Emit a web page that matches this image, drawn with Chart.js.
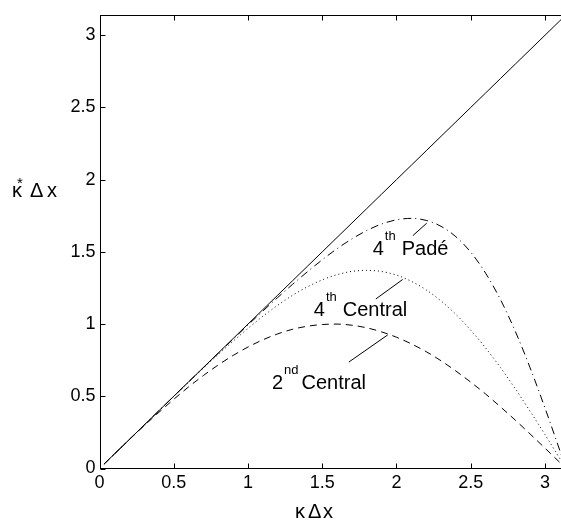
<!DOCTYPE html>
<html><head><meta charset="utf-8">
<script src="https://cdn.jsdelivr.net/npm/chart.js@4"></script>
<style>html,body{margin:0;padding:0;background:#fff;overflow:hidden;width:561px;height:525px}canvas{display:block}</style>
</head><body><canvas id="c" width="572" height="525" style="width:572px;height:525px"></canvas>
<script>
// ---- data ----
const xValues      = [0.03,0.1,0.2,0.3,0.4,0.5,0.6,0.7,0.8,0.9,1.0,1.1,1.2,1.3,1.4,1.5,1.6,1.7,1.8,1.9,2.0,2.1,2.2,2.3,2.4,2.5,2.6,2.7,2.8,2.9,3.0,3.1,3.1416];
const exactValues  = [0.03,0.1,0.2,0.3,0.4,0.5,0.6,0.7,0.8,0.9,1.0,1.1,1.2,1.3,1.4,1.5,1.6,1.7,1.8,1.9,2.0,2.1,2.2,2.3,2.4,2.5,2.6,2.7,2.8,2.9,3.0,3.1,3.1416];
const central2Values = [0.030,0.100,0.199,0.296,0.389,0.479,0.565,0.644,0.717,0.783,0.841,0.891,0.932,0.964,0.985,0.997,1.000,0.992,0.974,0.946,0.909,0.863,0.809,0.746,0.675,0.598,0.516,0.427,0.335,0.239,0.141,0.042,0];
const central4Values = [0.030,0.100,0.200,0.300,0.400,0.499,0.598,0.695,0.790,0.882,0.970,1.054,1.130,1.199,1.258,1.306,1.342,1.365,1.372,1.364,1.339,1.296,1.237,1.160,1.067,0.958,0.835,0.699,0.552,0.396,0.235,0.069,0];
const pade4Values    = [0.030,0.100,0.200,0.300,0.400,0.500,0.600,0.699,0.798,0.896,0.994,1.090,1.184,1.275,1.362,1.445,1.522,1.590,1.648,1.693,1.722,1.732,1.718,1.677,1.605,1.498,1.353,1.170,0.950,0.697,0.419,0.125,0];
const xTicks = [0,0.5,1,1.5,2,2.5,3];
const yTicks = [0,0.5,1,1.5,2,2.5,3];
const xTickLabels = ['0','0.5','1','1.5','2','2.5','3'];
const yTickLabels = ['0','0.5','1','1.5','2','2.5','3'];
const axisMax = 3.1416;
// annotation texts with anchor and leader line in data units
const annotationTexts = [['4','th','Padé'],['4','th','Central'],['2','nd','Central']];
const annotationAt    = [[1.840,1.480],[1.443,1.053],[1.161,0.548]];
const leaderFrom      = [[2.110,1.612],[1.861,1.174],[1.679,0.737]];
const leaderTo        = [[2.204,1.699],[2.042,1.309],[1.941,0.925]];

// ---- rendering ----
const FONT = '"Liberation Sans", Arial, Helvetica, sans-serif';
const pts = ys => xValues.map((x,i)=>({x, y: ys[i]}));

const frame = {
  id: 'frame',
  afterDraw(chart) {
    const {ctx, chartArea: a, scales: {x, y}} = chart;
    const r = v => Math.round(v) + 0.5;
    ctx.save();
    ctx.strokeStyle = '#000';
    ctx.lineWidth = 1;
    const L = r(a.left), R = r(a.right), T = r(a.top), B = Math.round(a.bottom) - 0.5;
    ctx.strokeRect(L, T, R - L, B - T);
    const tl = 5;
    ctx.beginPath();
    xTicks.forEach(v => {
      const px = r(x.getPixelForValue(v));
      ctx.moveTo(px, B); ctx.lineTo(px, B - tl);
      ctx.moveTo(px, T); ctx.lineTo(px, T + tl);
    });
    yTicks.forEach(v => {
      const py = r(y.getPixelForValue(v));
      ctx.moveTo(L, py); ctx.lineTo(L + tl, py);
      ctx.moveTo(R, py); ctx.lineTo(R - tl, py);
    });
    ctx.stroke();

    // leaders
    ctx.beginPath();
    leaderFrom.forEach((p, i) => {
      ctx.moveTo(x.getPixelForValue(p[0]), y.getPixelForValue(p[1]));
      ctx.lineTo(x.getPixelForValue(leaderTo[i][0]), y.getPixelForValue(leaderTo[i][1]));
    });
    ctx.stroke();

    // annotation texts
    ctx.fillStyle = '#000';
    ctx.textBaseline = 'alphabetic';
    ctx.textAlign = 'left';
    const gaps = [6, 6, 3];
    annotationTexts.forEach((t, i) => {
      let cx = x.getPixelForValue(annotationAt[i][0]);
      const by = y.getPixelForValue(annotationAt[i][1]);
      ctx.font = '20px ' + FONT; ctx.fillText(t[0], cx, by);
      cx += ctx.measureText(t[0]).width + 1;
      ctx.font = '13px ' + FONT; ctx.fillText(t[1], cx, by - 15);
      cx += ctx.measureText(t[1]).width + gaps[i];
      ctx.font = '20px ' + FONT; ctx.fillText(t[2], cx, by);
    });

    // axis titles
    ctx.font = '20px ' + FONT;
    ctx.fillText('κ', 295, 518);
    ctx.fillText('Δ', 308, 518);
    ctx.fillText('x', 323, 518);
    ctx.fillText('κ', 12, 197);
    ctx.font = '15px ' + FONT; ctx.fillText('*', 17, 188);
    ctx.font = '20px ' + FONT;
    ctx.fillText('Δ', 30, 197);
    ctx.fillText('x', 47, 197);
    ctx.restore();
  }
};

const base = {pointRadius: 0, borderColor: '#000', borderWidth: 1, fill: false, cubicInterpolationMode: 'monotone'};
new Chart(document.getElementById('c'), {
  type: 'line',
  data: {
    datasets: [
      Object.assign({label: 'exact', data: pts(exactValues)}, base),
      Object.assign({label: '2nd Central', data: pts(central2Values), borderDash: [7, 5]}, base),
      Object.assign({label: '4th Central', data: pts(central4Values), borderDash: [1, 3]}, base),
      Object.assign({label: '4th Padé', data: pts(pade4Values), borderDash: [8, 4, 1, 4]}, base)
    ]
  },
  options: {
    responsive: false,
    animation: false,
    devicePixelRatio: 1,
    layout: {padding: {top: 2, right: 6, left: 0, bottom: 0}},
    plugins: {legend: {display: false}, tooltip: {enabled: false}},
    scales: {
      x: {
        type: 'linear', min: 0, max: axisMax,
        afterBuildTicks: s => { s.ticks = xTicks.map(v => ({value: v})); },
        afterFit: s => { s.height = 56.5; },
        grid: {display: false, drawTicks: false},
        border: {display: false},
        ticks: {color: '#000', font: {family: FONT, size: 18}, padding: 4, maxRotation: 0, autoSkip: false,
                callback: (v) => xTickLabels[xTicks.indexOf(v)]}
      },
      y: {
        type: 'linear', min: 0, max: axisMax,
        afterBuildTicks: s => { s.ticks = yTicks.map(v => ({value: v})); },
        afterFit: s => { s.width = 99.5; },
        grid: {display: false, drawTicks: false},
        border: {display: false},
        ticks: {color: '#000', font: {family: FONT, size: 18}, padding: 4, autoSkip: false,
                callback: (v) => yTickLabels[yTicks.indexOf(v)]}
      }
    }
  },
  plugins: [frame]
});
</script>
</body></html>
